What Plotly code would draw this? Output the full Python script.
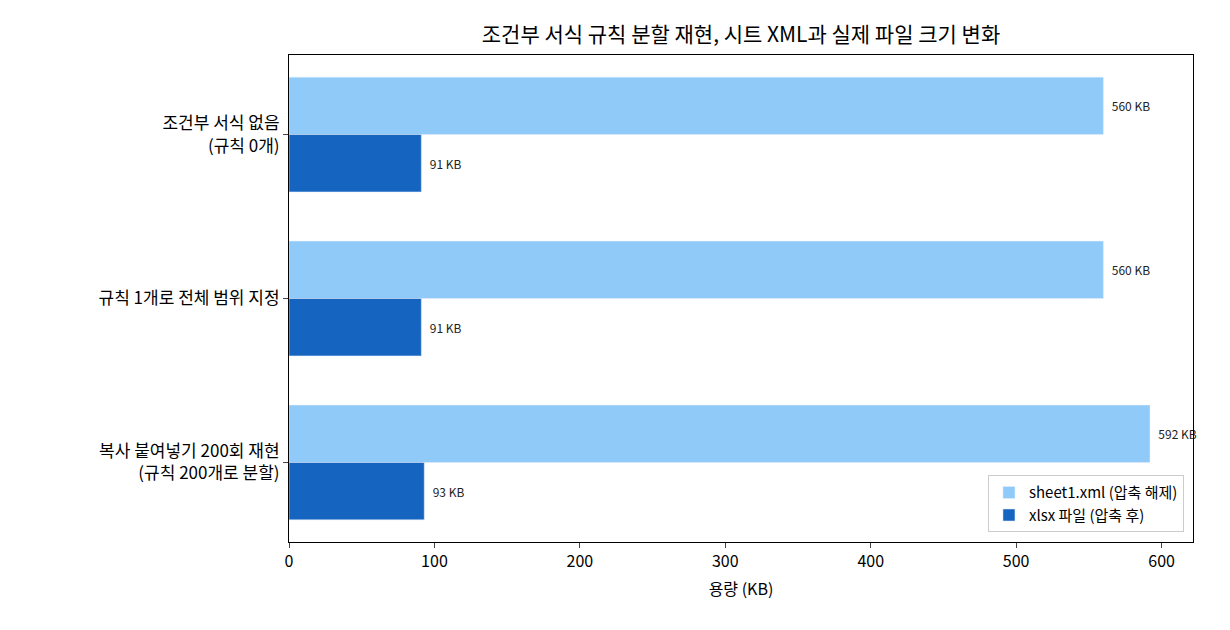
import plotly.graph_objects as go

# 시나리오별 용량 (KB)
categories = ["조건부 서식 없음<br>(규칙 0개)",
              "규칙 1개로 전체 범위 지정",
              "복사 붙여넣기 200회 재현<br>(규칙 200개로 분할)"]
xml_kb = [560, 560, 592]
xlsx_kb = [91, 91, 93]
x_ticks = [0, 100, 200, 300, 400, 500, 600]

font = "Noto Sans CJK KR"
pos = list(range(len(categories)))

fig = go.Figure()
fig.add_trace(go.Bar(
    y=pos, x=xml_kb, orientation="h", name="sheet1.xml (압축 해제)",
    marker_color="#90CAF9", width=0.35, offset=-0.35,
    text=["  {} KB".format(v) for v in xml_kb], textposition="outside",
    textfont=dict(size=12, color="#222222"), cliponaxis=False,
    constraintext="none"))
fig.add_trace(go.Bar(
    y=pos, x=xlsx_kb, orientation="h", name="xlsx 파일 (압축 후)",
    marker_color="#1565C0", width=0.35, offset=0,
    text=["  {} KB".format(v) for v in xlsx_kb], textposition="outside",
    textfont=dict(size=12, color="#222222"), cliponaxis=False,
    constraintext="none"))

fig.update_layout(
    width=1230, height=630,
    margin=dict(l=289, r=37, t=55, b=88),
    plot_bgcolor="white", paper_bgcolor="white",
    font=dict(family=font, size=15, color="black"),
    title=dict(text="조건부 서식 규칙 분할 재현, 시트 XML과 실제 파일 크기 변화",
               x=0.5, xanchor="center", xref="paper", y=0.945, yanchor="middle",
               font=dict(size=21)),
    showlegend=True,
    legend=dict(x=0.99, y=0.02, xanchor="right", yanchor="bottom",
                bordercolor="#cccccc", borderwidth=1, bgcolor="rgba(255,255,255,0.8)",
                font=dict(size=15)),
    bargap=0.3,
)
fig.update_xaxes(range=[0, 621.6], tickvals=x_ticks, ticks="outside", ticklen=5,
                 showline=True, linecolor="black", linewidth=1, mirror=True,
                 showgrid=False, zeroline=False, title_text="용량 (KB)",
                 title_font=dict(size=16), tickfont=dict(size=16),
                 title_standoff=12)
fig.update_yaxes(range=[2.485, -0.485], tickvals=pos, ticktext=categories,
                 ticks="outside", ticklen=5, showline=True, linecolor="black",
                 linewidth=1, mirror=True, showgrid=False, zeroline=False,
                 tickfont=dict(size=17))

fig.write_html("out.html", config={"displayModeBar": False})

# 브라우저 기본 여백 제거
with open("out.html", "r", encoding="utf-8") as f:
    page = f.read()
page = page.replace("<body>", '<body style="margin:0">', 1)
with open("out.html", "w", encoding="utf-8") as f:
    f.write(page)
